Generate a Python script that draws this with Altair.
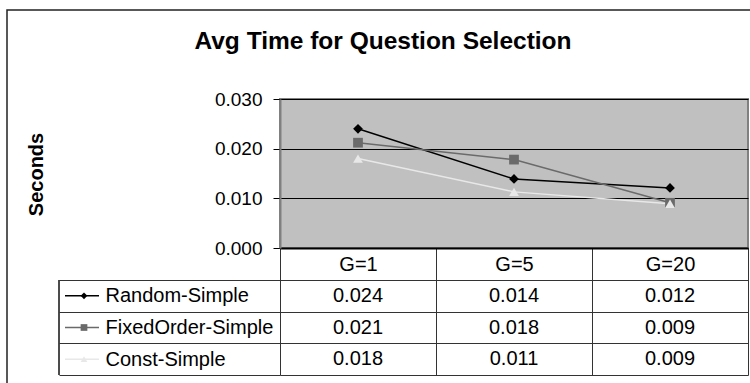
import altair as alt
import pandas as pd

# ---- data ----
groups = ["G=1", "G=5", "G=20"]
series_names = ["Random-Simple", "FixedOrder-Simple", "Const-Simple"]
random_simple = [0.0240, 0.0139, 0.0121]
fixed_order_simple = [0.0212, 0.0178, 0.0091]
const_simple = [0.0180, 0.0113, 0.0089]
y_ticks = [0.0, 0.010, 0.020, 0.030]

series_colors = ["#000000", "#6A6A6A", "#E8E8E8"]
series_shapes = ["diamond", "square", "triangle-up"]

rows = []
for name, vals in zip(series_names, [random_simple, fixed_order_simple, const_simple]):
    for g, v in zip(groups, vals):
        rows.append({"series": name, "group": g, "value": v})
df = pd.DataFrame(rows)

FONT = "Liberation Sans"

x_scale = alt.Scale(domain=groups, paddingInner=0, paddingOuter=0)
x_axis = alt.Axis(
    title=None, orient="bottom", tickBand="extent", tickSize=127,
    tickColor="#333333", tickWidth=1, labelFontSize=20, labelFont=FONT,
    labelColor="black", labelPadding=-111, labelBaseline="middle",
    labelAngle=0, domainColor="black", domainWidth=2, grid=False,
)
color_scale = alt.Scale(domain=series_names, range=series_colors)
shape_scale = alt.Scale(domain=series_names, range=series_shapes)

y_axis = alt.Axis(
    values=y_ticks, format=".3f", tickSize=7, tickColor="black",
    labelFontSize=19, labelFont=FONT, labelColor="black", labelPadding=11,
    grid=True, gridColor="black", gridWidth=1, domainColor="#808080",
    domainWidth=2, title="Seconds", titleFontSize=20, titleFont=FONT,
    titleFontWeight="bold", titleColor="black", titleX=-234, titleY=75,
    titleAngle=-90, titleAlign="center", titleBaseline="bottom", orient="left",
)
y_scale = alt.Scale(domain=[0, 0.03], nice=False, zero=True)

row_scale = alt.Scale(domain=series_names, range=[181, 276], paddingInner=0, paddingOuter=0)
row_axis = alt.Axis(
    title=None, orient="left", tickBand="extent", tickSize=221,
    tickColor="#333333", tickWidth=1, grid=True, gridColor="#333333",
    gridWidth=1, domain=False, labelAlign="left", labelPadding=-46,
    labelFontSize=20, labelFont=FONT, labelColor="black",
    labelBaseline="middle", labelLimit=0,
)

base = alt.Chart(df)

lines = base.mark_line(strokeWidth=1.5).encode(
    x=alt.X("group:N", scale=x_scale, axis=x_axis),
    y=alt.Y("value:Q", scale=y_scale, axis=y_axis),
    color=alt.Color("series:N", scale=color_scale, legend=None),
    detail="series:N",
)
points = base.mark_point(filled=True, opacity=1, size=95).encode(
    x=alt.X("group:N", scale=x_scale, axis=x_axis),
    y=alt.Y("value:Q", scale=y_scale, axis=y_axis),
    color=alt.Color("series:N", scale=color_scale, legend=None),
    shape=alt.Shape("series:N", scale=shape_scale, legend=None),
)
plot = alt.layer(lines, points)

cells = base.mark_text(fontSize=20, font=FONT, color="black", baseline="middle", align="center").encode(
    x=alt.X("group:N", scale=x_scale, axis=x_axis),
    y=alt.Y("series:N", scale=row_scale, axis=row_axis),
    text=alt.Text("value:Q", format=".3f"),
)
key_rows = base.transform_filter(alt.datum.group == groups[0])
key_lines = key_rows.mark_rule(strokeWidth=1.5).encode(
    x=alt.value(-215), x2=alt.value(-181),
    y=alt.Y("series:N", scale=row_scale, axis=row_axis),
    color=alt.Color("series:N", scale=color_scale, legend=None),
)
key_points = key_rows.mark_point(filled=True, opacity=1, size=45).encode(
    x=alt.value(-196),
    y=alt.Y("series:N", scale=row_scale, axis=row_axis),
    color=alt.Color("series:N", scale=color_scale, legend=None),
    shape=alt.Shape("series:N", scale=shape_scale, legend=None),
)
left_border = key_rows.mark_rule(color="#333333", strokeWidth=1).encode(
    x=alt.value(-221), y=alt.value(181), y2=alt.value(276),
)
table = alt.layer(cells, key_lines, key_points, left_border)

frame = alt.Chart(alt.Data(values=[{"f": 1}])).mark_rect(
    fill=None, stroke="#222222", strokeWidth=1.5
).encode(x=alt.value(-273), y=alt.value(-89), x2=alt.value(500), y2=alt.value(400))

chart = alt.layer(plot, table, frame).resolve_scale(y="independent").properties(
    width=468, height=149,
    padding={"left": 280, "top": 99, "right": 2, "bottom": 135},
    autosize=alt.AutoSizeParams(type="none"),
    title=alt.TitleParams(
        "Avg Time for Question Selection", fontSize=24.5, fontWeight="bold",
        font=FONT, color="black", anchor="middle", frame="group", dx=-131,
        offset=0, dy=57.5, baseline="middle",
    ),
    background="white",
).configure_view(fill="#C0C0C0", stroke="#808080", strokeWidth=2)

chart.save("out.html", embed_options={"renderer": "svg", "actions": False})
